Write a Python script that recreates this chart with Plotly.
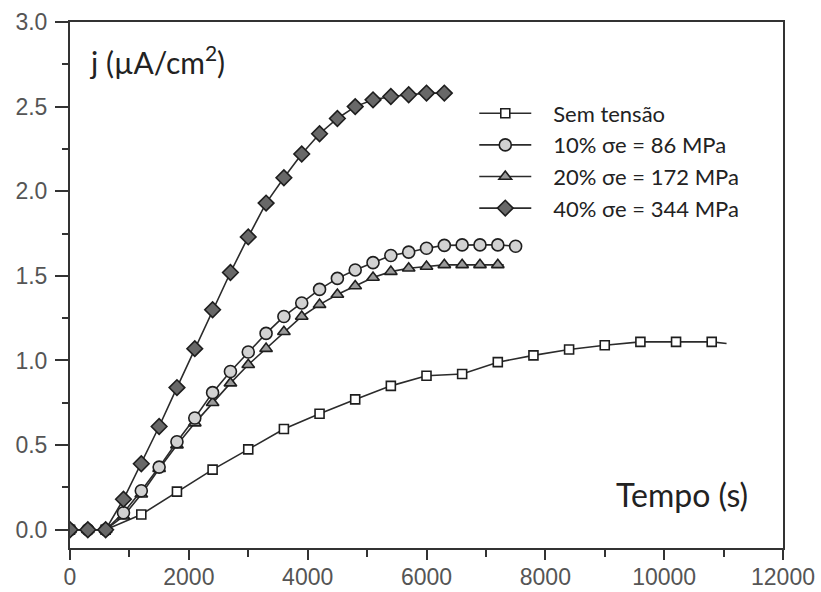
import plotly.graph_objects as go

# Tempo (s) / densidade de corrente j (µA/cm²) para cada nível de tensão
sem_t = [0, 600, 1200, 1800, 2400, 3000, 3600, 4200, 4800, 5400, 6000,
         6600, 7200, 7800, 8400, 9000, 9600, 10200, 10800]
sem_j = [0.0, 0.0, 0.09, 0.225, 0.355, 0.475, 0.595, 0.685, 0.77, 0.85, 0.91,
         0.92, 0.99, 1.03, 1.065, 1.09, 1.11, 1.11, 1.11]
sem_tail_t = 11050
sem_tail_j = 1.10

t10 = [0, 300, 600, 900, 1200, 1500, 1800, 2100, 2400, 2700, 3000, 3300, 3600,
       3900, 4200, 4500, 4800, 5100, 5400, 5700, 6000, 6300, 6600, 6900, 7200, 7500]
j10 = [0.0, 0.0, 0.0, 0.10, 0.23, 0.37, 0.52, 0.66, 0.81, 0.935, 1.05, 1.16, 1.26,
       1.34, 1.42, 1.485, 1.535, 1.578, 1.62, 1.64, 1.663, 1.68, 1.683, 1.683, 1.683, 1.675]

t20 = [0, 300, 600, 900, 1200, 1500, 1800, 2100, 2400, 2700, 3000, 3300, 3600,
       3900, 4200, 4500, 4800, 5100, 5400, 5700, 6000, 6300, 6600, 6900, 7200]
j20 = [0.0, 0.0, 0.0, 0.08, 0.21, 0.36, 0.50, 0.63, 0.75, 0.866, 0.975, 1.07, 1.17,
       1.26, 1.33, 1.39, 1.44, 1.49, 1.525, 1.545, 1.555, 1.565, 1.565, 1.565, 1.565]
t20_tail = 7300
j20_tail = 1.565

t40 = [0, 300, 600, 900, 1200, 1500, 1800, 2100, 2400, 2700, 3000, 3300, 3600,
       3900, 4200, 4500, 4800, 5100, 5400, 5700, 6000, 6300]
j40 = [0.0, 0.0, 0.0, 0.18, 0.39, 0.61, 0.84, 1.07, 1.30, 1.52, 1.73, 1.93, 2.08,
       2.22, 2.34, 2.43, 2.50, 2.54, 2.56, 2.57, 2.58, 2.58]

labels = ["Sem tensão", "10% σe = 86 MPa", "20% σe = 172 MPa", "40% σe = 344 MPa"]

x_ticks = [0, 2000, 4000, 6000, 8000, 10000, 12000]
y_ticks = [0.0, 0.5, 1.0, 1.5, 2.0, 2.5, 3.0]

LINE = "#2b2b2b"
EDGE = dict(color="#1e1e1e", width=1.6)
GAP = "\u00a0" * 3  # extra room between legend symbol and label

fig = go.Figure()

# short line-only ends past the last marker
fig.add_trace(go.Scatter(x=[sem_t[-1], sem_tail_t], y=[sem_j[-1], sem_tail_j],
                         mode="lines", line=dict(color=LINE, width=1.6),
                         showlegend=False, hoverinfo="skip"))
fig.add_trace(go.Scatter(x=[t20[-1], t20_tail], y=[j20[-1], j20_tail],
                         mode="lines", line=dict(color=LINE, width=1.6),
                         showlegend=False, hoverinfo="skip"))

fig.add_trace(go.Scatter(
    x=sem_t, y=sem_j, name=GAP + labels[0], mode="lines+markers", legendrank=1,
    line=dict(color=LINE, width=1.6),
    marker=dict(symbol="square", size=9, color="white", line=EDGE)))
fig.add_trace(go.Scatter(
    x=t20, y=j20, name=GAP + labels[2], mode="lines+markers", legendrank=3,
    line=dict(color=LINE, width=1.6),
    marker=dict(symbol="triangle-up", size=11, color="#9a9a9a", line=EDGE)))
fig.add_trace(go.Scatter(
    x=t10, y=j10, name=GAP + labels[1], mode="lines+markers", legendrank=2,
    line=dict(color=LINE, width=1.6),
    marker=dict(symbol="circle", size=12, color="#d2d2d2", line=EDGE)))
fig.add_trace(go.Scatter(
    x=t40, y=j40, name=GAP + labels[3], mode="lines+markers", legendrank=4,
    line=dict(color=LINE, width=1.6),
    marker=dict(symbol="diamond", size=12, color="#686868", line=EDGE)))

tick_font = dict(family="Liberation Sans, Arial, sans-serif", size=23, color="#555555")

fig.update_layout(
    width=821, height=592,
    margin=dict(l=70, r=38, t=22, b=44),
    paper_bgcolor="white", plot_bgcolor="white",
    showlegend=True,
    legend=dict(x=0.567, y=0.866, xanchor="left", yanchor="top",
                bgcolor="rgba(0,0,0,0)", itemwidth=52,
                font=dict(family="Lato, sans-serif", size=22, color="#222222"),
                traceorder="normal"),
    annotations=[
        dict(text="j (µA/cm<sup>2</sup>)", xref="paper", yref="paper",
             x=0.0234, y=0.928, xanchor="left", yanchor="middle", showarrow=False,
             font=dict(family="Lato, sans-serif", size=30, color="#222222")),
        dict(text="Tempo (s)", xref="paper", yref="paper",
             x=0.763, y=0.101, xanchor="left", yanchor="middle", showarrow=False,
             font=dict(family="Lato, sans-serif", size=32, color="#222222")),
    ],
)

fig.update_xaxes(
    range=[0, 12000], tickvals=x_ticks, ticktext=[str(v) for v in x_ticks],
    showgrid=False, zeroline=False, automargin=False,
    showline=True, linecolor="#333333", linewidth=2, mirror=True,
    ticks="outside", ticklen=10, tickwidth=2, tickcolor="#333333",
    ticklabelstandoff=-3, tickfont=tick_font,
    minor=dict(dtick=1000, tick0=0, ticks="outside", ticklen=7, tickwidth=2,
               tickcolor="#333333", showgrid=False),
)
fig.update_yaxes(
    range=[-0.108, 3.0], tickvals=y_ticks, ticktext=[f"{v:.1f}" for v in y_ticks],
    showgrid=False, zeroline=False, automargin=False,
    showline=True, linecolor="#333333", linewidth=2, mirror=True,
    ticks="outside", ticklen=13, tickwidth=2, tickcolor="#333333",
    ticklabelstandoff=3, tickfont=tick_font,
    minor=dict(dtick=0.25, tick0=0, ticks="outside", ticklen=6, tickwidth=2,
               tickcolor="#333333", showgrid=False),
)

fig.write_html("out.html")
